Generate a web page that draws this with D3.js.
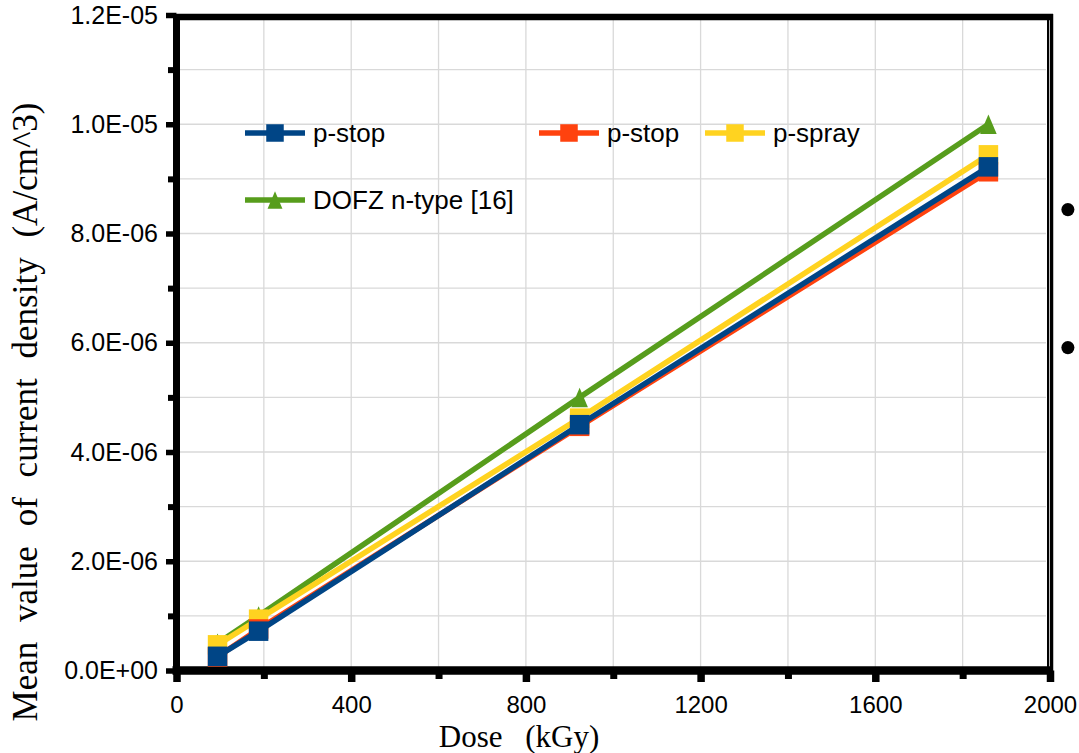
<!DOCTYPE html>
<html>
<head>
<meta charset="utf-8">
<script src="https://cdn.jsdelivr.net/npm/d3@7"></script>
<style>
    body { margin: 0; background: #fff; }
    svg { display: block; }
</style>
</head>
<body>
<div id="chart"></div>
<script>
// data
const doses = [94, 188, 923, 1859];
const pStopBlue = [0.26e-6, 0.72e-6, 4.50e-6, 9.22e-6];
const pStopRed = [0.25e-6, 0.76e-6, 4.47e-6, 9.13e-6];
const pSpray = [0.47e-6, 0.94e-6, 4.62e-6, 9.44e-6];
const dofz = [0.5e-6, 1.0e-6, 5.0e-6, 10.0e-6];

const seriesNames = ["p-stop", "p-stop", "p-spray", "DOFZ n-type [16]"];
const seriesColors = ["#004586", "#ff420e", "#ffd320", "#579d1c"];
const seriesMarkers = ["square", "square", "square", "triangle"];

const yTickValues = [0, 2e-6, 4e-6, 6e-6, 8e-6, 10e-6, 12e-6];
const yTickLabels = ["0.0E+00", "2.0E-06", "4.0E-06", "6.0E-06", "8.0E-06", "1.0E-05", "1.2E-05"];
const xTickValues = [0, 400, 800, 1200, 1600, 2000];

const W = 1079, H = 753;
const mLeft = 176.5, mRight = 1050, mTop = 15, mBottom = 670.5;

const svg = d3.select("#chart").append("svg").attr("width", W).attr("height", H);

const x = d3.scaleLinear().domain([0, 2000]).range([mLeft, mRight]);
const y = d3.scaleLinear().domain([0, 1.2e-5]).range([mBottom, mTop]);

// grid
const grid = svg.append("g").attr("stroke", "#d9d9d9").attr("stroke-width", 1.3);
grid.selectAll(".gy").data(d3.range(1, 12).map(i => i * 1e-6)).join("line")
    .attr("x1", mLeft).attr("x2", mRight - 4)
    .attr("y1", d => y(d)).attr("y2", d => y(d));
grid.selectAll(".gx").data(d3.range(200, 2000, 200)).join("line")
    .attr("y1", mTop).attr("y2", mBottom)
    .attr("x1", d => x(d)).attr("x2", d => x(d));

// axes
const styleAxis = (g, w) => {
    g.select(".domain").remove();
    g.selectAll(".tick line").attr("stroke", "#000").attr("stroke-width", w);
    g.selectAll(".tick text").attr("fill", "#000")
        .style("font-family", "'Liberation Sans', Arial, sans-serif");
};

svg.append("g").attr("transform", `translate(${mLeft},0)`)
    .call(d3.axisLeft(y).tickValues(d3.range(1, 12, 2).map(i => i * 1e-6)).tickFormat("").tickSize(8.5))
    .call(g => styleAxis(g, 6));
svg.append("g").attr("transform", `translate(${mLeft},0)`)
    .call(d3.axisLeft(y).tickValues(yTickValues).tickFormat((d, i) => yTickLabels[i]).tickSize(10.5).tickPadding(8))
    .call(g => styleAxis(g, 5.5))
    .call(g => g.selectAll(".tick text").style("font-size", "25px"));

svg.append("g").attr("transform", `translate(0,${mBottom})`)
    .call(d3.axisBottom(x).tickValues(d3.range(200, 2000, 400)).tickFormat("").tickSize(8.5))
    .call(g => styleAxis(g, 7));
svg.append("g").attr("transform", `translate(0,${mBottom})`)
    .call(d3.axisBottom(x).tickValues(xTickValues).tickFormat(d3.format("d")).tickSize(11.5).tickPadding(13.5))
    .call(g => styleAxis(g, 7.5))
    .call(g => g.selectAll(".tick text").style("font-size", "24px"));

// frame
const frame = svg.append("g").attr("stroke", "#000");
frame.append("line").attr("x1", mLeft).attr("x2", mRight + 3).attr("y1", mTop + 2).attr("y2", mTop + 2).attr("stroke-width", 6.5);
frame.append("line").attr("x1", mLeft).attr("x2", mLeft).attr("y1", mTop - 1).attr("y2", mBottom + 4).attr("stroke-width", 7);
frame.append("line").attr("x1", mLeft - 4).attr("x2", mRight + 3).attr("y1", mBottom).attr("y2", mBottom).attr("stroke-width", 8.5);
frame.append("line").attr("x1", mRight - 2).attr("x2", mRight - 2).attr("y1", mTop).attr("y2", mBottom).attr("stroke-width", 2);
frame.append("line").attr("x1", mRight + 1.5).attr("x2", mRight + 1.5).attr("y1", mTop - 1).attr("y2", mBottom + 11.5).attr("stroke-width", 3.5);

// series (drawn last-to-first, as in the original)
const allSeries = [pStopBlue, pStopRed, pSpray, dofz];
const line = d3.line().x(d => x(d[0])).y(d => y(d[1]));

const drawMarker = (g, type, cx, cy, color, s) => {
    if (type === "square") {
        g.append("rect").attr("x", cx - s / 2).attr("y", cy - s / 2)
            .attr("width", s).attr("height", s).attr("fill", color);
    } else {
        const w = s * 0.85, h = s;
        g.append("path")
            .attr("d", `M${cx},${cy - h / 2}L${cx + w / 2},${cy + h / 2}L${cx - w / 2},${cy + h / 2}Z`)
            .attr("fill", color);
    }
};

const plotG = svg.append("g");
[3, 2, 1, 0].forEach(i => {
    const pts = doses.map((d, j) => [d, allSeries[i][j]]);
    const g = plotG.append("g");
    g.append("path").attr("d", line(pts)).attr("fill", "none")
        .attr("stroke", seriesColors[i]).attr("stroke-width", 5.5)
        .attr("stroke-linejoin", "round");
    pts.forEach(p => drawMarker(g, seriesMarkers[i], x(p[0]), y(p[1]), seriesColors[i], 19.5));
});

// legend
const legendPos = [[245, 133], [539, 133], [705, 133], [245, 200]];
const legend = svg.append("g");
seriesNames.forEach((name, i) => {
    const [lx, ly] = legendPos[i];
    const g = legend.append("g");
    g.append("line").attr("x1", lx).attr("x2", lx + 60).attr("y1", ly).attr("y2", ly)
        .attr("stroke", seriesColors[i]).attr("stroke-width", 5.5);
    drawMarker(g, seriesMarkers[i], lx + 30, ly, seriesColors[i], 17.5);
    g.append("text").attr("x", lx + 68).attr("y", ly + 9)
        .style("font-family", "'Liberation Sans', Arial, sans-serif")
        .style("font-size", "26px").attr("fill", "#000").text(name);
});

// axis titles
svg.append("text").attr("x", 519).attr("y", 746.5).attr("text-anchor", "middle")
    .style("font-family", "'Liberation Serif', 'Times New Roman', serif")
    .style("font-size", "31px").style("word-spacing", "15px").attr("fill", "#000")
    .text("Dose (kGy)");

const yTitle = svg.append("text")
    .attr("transform", "translate(37,412) rotate(-90)")
    .attr("text-anchor", "middle")
    .style("font-family", "'Liberation Serif', 'Times New Roman', serif")
    .style("font-size", "35px").attr("fill", "#000")
    .text("Mean value of current density (A/cm^3)");
const len = yTitle.node().getComputedTextLength();
const nSpaces = 6;
yTitle.style("word-spacing", `${Math.max(0, (630 - len) / nSpaces)}px`);

// stray bullets from the surrounding page
svg.selectAll(".bullet").data([210, 348]).join("text")
    .attr("x", 1068).attr("y", d => d + 18).attr("text-anchor", "middle")
    .style("font-family", "'Liberation Serif', serif").style("font-size", "55px")
    .attr("fill", "#000").text("•");
</script>
</body>
</html>
